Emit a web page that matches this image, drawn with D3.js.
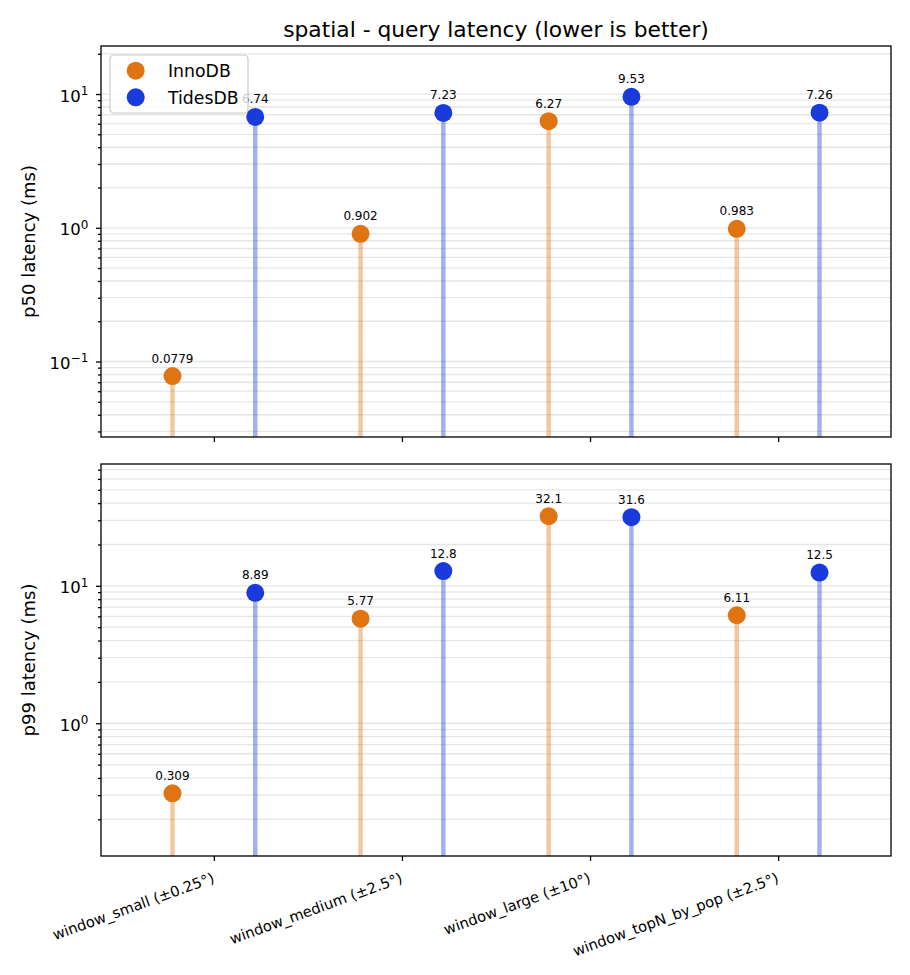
<!DOCTYPE html>
<meta charset="utf-8">
<style>
body { margin: 0; background: #fff; }
text { font-family: "DejaVu Sans", sans-serif; fill: #000; }
.grid line { stroke: #e6e6e6; stroke-width: 1.3px; }
.axis path, .axis line { stroke: #000; stroke-width: 1.3px; }
</style>
<body>
<script src="https://d3js.org/d3.v7.min.js"></script>
<script>
// categories and series
var categories = ["window_small (±0.25°)", "window_medium (±2.5°)", "window_large (±10°)", "window_topN_by_pop (±2.5°)"];
var engines = ["InnoDB", "TidesDB"];
var engineColors = ["#e07412", "#1a3bdb"];
var p50InnoDB  = [0.0779, 0.902, 6.27, 0.983];
var p50TidesDB = [6.74, 7.23, 9.53, 7.26];
var p99InnoDB  = [0.309, 5.77, 32.1, 6.11];
var p99TidesDB = [8.89, 12.8, 31.6, 12.5];

var W = 910, H = 975;
var left = 101, right = 891;

var svg = d3.select("body").append("svg")
    .attr("width", W)
    .attr("height", H);
svg.append("rect").attr("width", W).attr("height", H).attr("fill", "#fff");

// set the ranges
var x = d3.scaleLinear().domain([-0.6, 3.6]).range([left, right]);
var offset = 0.22;

var panels = [
  {label: "p50 latency (ms)", top: 46, bottom: 437, series: [p50InnoDB, p50TidesDB], ticks: false},
  {label: "p99 latency (ms)", top: 464, bottom: 856, series: [p99InnoDB, p99TidesDB], ticks: true}
];

var fmt = d3.format(".3g");
var sup = function(e) { return e < 0 ? "\u2212" + (-e) : "" + e; };

panels.forEach(function(p) {
  var all = p.series[0].concat(p.series[1]);
  var y = d3.scaleLog()
      .domain([d3.min(all) * 0.35, d3.max(all) * 2.4])
      .range([p.bottom, p.top]);

  var d0 = Math.floor(Math.log10(y.domain()[0])),
      d1 = Math.ceil(Math.log10(y.domain()[1]));
  var majors = [], minors = [];
  for (var k = d0; k <= d1; k++) {
    for (var m = 1; m < 10; m++) {
      var v = m * Math.pow(10, k);
      if (v < y.domain()[0] || v > y.domain()[1]) continue;
      if (m == 1) majors.push(v); else minors.push(v);
    }
  }

  // horizontal grid, major and minor
  svg.append("g")
      .attr("class", "grid")
      .selectAll("line")
      .data(majors.concat(minors))
      .enter().append("line")
      .attr("x1", left).attr("x2", right)
      .attr("y1", function(d) { return y(d); })
      .attr("y2", function(d) { return y(d); });

  // stems and points
  p.series.forEach(function(vals, si) {
    var dx = si == 0 ? -offset : offset;
    var g = svg.append("g");
    g.selectAll(".stem")
        .data(vals)
        .enter().append("line")
        .attr("class", "stem")
        .attr("x1", function(d, i) { return x(i + dx); })
        .attr("x2", function(d, i) { return x(i + dx); })
        .attr("y1", p.bottom)
        .attr("y2", function(d) { return y(d); })
        .attr("stroke", engineColors[si])
        .attr("stroke-opacity", 0.4)
        .attr("stroke-width", 4.5);
    g.selectAll("circle")
        .data(vals)
        .enter().append("circle")
        .attr("cx", function(d, i) { return x(i + dx); })
        .attr("cy", function(d) { return y(d); })
        .attr("r", 9)
        .attr("fill", engineColors[si]);
    g.selectAll(".val")
        .data(vals)
        .enter().append("text")
        .attr("class", "val")
        .attr("x", function(d, i) { return x(i + dx); })
        .attr("y", function(d) { return y(d) - 13.5; })
        .attr("text-anchor", "middle")
        .style("font-size", "12px")
        .text(function(d) { return fmt(d); });
  });

  // frame
  svg.append("rect")
      .attr("x", left).attr("y", p.top)
      .attr("width", right - left).attr("height", p.bottom - p.top)
      .attr("fill", "none").attr("stroke", "#000").attr("stroke-width", 1.3);

  // Y axis: major ticks with 10^k labels, minor ticks
  var ya = svg.append("g")
      .attr("class", "axis")
      .attr("transform", "translate(" + left + ",0)")
      .call(d3.axisLeft(y).tickValues(majors).tickSize(5).tickPadding(7.7).tickFormat(""));
  ya.select(".domain").remove();
  ya.selectAll(".tick text").each(function(d) {
    var t = d3.select(this).attr("dy", "7px").style("font-size", "16.5px");
    t.append("tspan").text("10");
    t.append("tspan").attr("dy", "-6.7").style("font-size", "12px").text(sup(Math.round(Math.log10(d))));
  });
  var ym = svg.append("g")
      .attr("class", "axis")
      .attr("transform", "translate(" + left + ",0)")
      .call(d3.axisLeft(y).tickValues(minors).tickSize(3).tickFormat(""));
  ym.select(".domain").remove();

  svg.append("text")
      .attr("transform", "translate(35," + (p.top + p.bottom) / 2 + ") rotate(-90)")
      .attr("text-anchor", "middle")
      .style("font-size", "18px")
      .text(p.label);

  // X axis
  var xa = svg.append("g")
      .attr("class", "axis")
      .attr("transform", "translate(0," + p.bottom + ")")
      .call(d3.axisBottom(x).tickValues(d3.range(categories.length)).tickSize(5)
        .tickFormat(p.ticks ? function(i) { return categories[i]; } : ""));
  xa.select(".domain").remove();
  if (p.ticks) {
    xa.selectAll(".tick text")
        .attr("x", 0).attr("y", 0).attr("dy", null)
        .attr("text-anchor", "end")
        .attr("transform", "translate(1,26) rotate(-20)")
        .style("font-size", "14.7px");
  }
});

// legend
var lg = svg.append("g").attr("transform", "translate(110,55)");
lg.append("rect")
    .attr("width", 138).attr("height", 58).attr("rx", 4)
    .attr("fill", "#fff").attr("fill-opacity", 0.8)
    .attr("stroke", "#cccccc").attr("stroke-width", 1.2);
engines.forEach(function(e, i) {
  lg.append("circle")
      .attr("cx", 25.7).attr("cy", 15.7 + i * 26.6)
      .attr("r", 9).attr("fill", engineColors[i]);
  lg.append("text")
      .attr("x", 58).attr("y", 15.7 + i * 26.6 + 6.2)
      .style("font-size", "17.3px")
      .text(e);
});

// title
svg.append("text")
    .attr("x", (left + right) / 2).attr("y", 37)
    .attr("text-anchor", "middle")
    .style("font-size", "21.8px")
    .text("spatial - query latency (lower is better)");
</script>
</body>
